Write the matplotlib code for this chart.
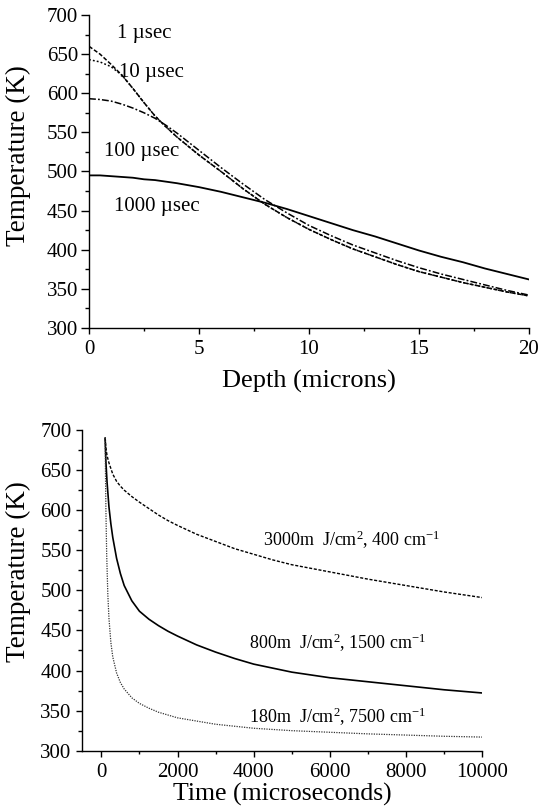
import matplotlib
matplotlib.use("Agg")
import matplotlib.pyplot as plt
from matplotlib.ticker import MultipleLocator

plt.rcParams["font.family"] = ["Liberation Serif", "DejaVu Serif"]
plt.rcParams["mathtext.fontset"] = "custom"
plt.rcParams["mathtext.rm"] = "Liberation Serif"
plt.rcParams["mathtext.it"] = "Liberation Serif:italic"

# ---- depth profiles at several times after the pulse ----
depth = [0, 0.5, 1, 1.5, 2, 2.5, 3, 3.5, 4, 5, 6, 7, 8, 9, 10,
         11, 12, 13, 14, 15, 16, 17, 18, 19, 20]
temp_1us = [660, 650, 637, 623, 606, 588, 571, 557, 544, 521, 500, 478, 458,
            441, 426, 413, 401, 391, 381, 372, 365, 358, 352, 346, 341]
temp_10us = [643, 640, 634, 623, 606, 588, 571, 557, 544, 521, 500, 478, 458,
             441, 426, 413, 401, 391, 381, 372, 365, 358, 352, 346, 341]
temp_100us = [593, 592, 590, 586, 581, 575, 568, 559, 549, 527, 505, 484, 464,
              447, 431, 418, 406, 396, 386, 377, 369, 362, 355, 348, 342]
temp_1000us = [495, 495, 494, 493, 492, 490, 489, 487, 485, 480, 474, 467, 460,
               452, 443, 434, 425, 417, 408, 399, 391, 384, 376, 369, 362]

profile_labels = ["1 \u00b5sec", "10 \u00b5sec", "100 \u00b5sec", "1000 \u00b5sec"]

# ---- surface temperature vs time for three fluence / absorption cases ----
time_3000 = [100, 120, 150, 200, 300, 400, 500, 600, 800, 1000, 1250, 1500,
             1750, 2000, 2500, 3000, 3500, 4000, 4500, 5000, 6000, 7000,
             8000, 9000, 10000]
temp_3000 = [690, 678, 668, 659, 645, 636, 630, 625, 617, 610, 602, 594,
             587, 581, 570, 561, 552, 545, 538, 532, 523, 514,
             506, 498, 491]

time_800 = [100, 120, 150, 200, 250, 300, 400, 500, 600, 800, 1000, 1250,
            1500, 1750, 2000, 2500, 3000, 3500, 4000, 4500, 5000, 6000,
            7000, 8000, 9000, 10000]
temp_800 = [690, 660, 635, 604, 583, 566, 540, 521, 506, 487, 474, 464,
            456, 449, 443, 432, 423, 415, 408, 403, 398, 391,
            386, 381, 376, 372]

time_180 = [100, 110, 120, 140, 170, 200, 250, 300, 400, 500, 600, 800,
            1000, 1250, 1500, 2000, 2500, 3000, 4000, 5000, 6000, 7000,
            8000, 9000, 10000]
temp_180 = [690, 640, 600, 545, 495, 465, 435, 417, 397, 385, 377, 366,
            359, 353, 348, 341, 337, 333, 328, 325, 323, 321,
            319.5, 318, 317]

case_labels = [r"3000m  J/cm$^{2}$, 400 cm$^{-1}$",
               r"800m  J/cm$^{2}$, 1500 cm$^{-1}$",
               r"180m  J/cm$^{2}$, 7500 cm$^{-1}$"]

fig = plt.figure(figsize=(5.4, 8.1), dpi=100)
ax1 = fig.add_axes([0.1648, 0.5951, 0.8148, 0.3864])
ax2 = fig.add_axes([0.1524, 0.0732, 0.7407, 0.3959])


def style_axes(ax, ymajor_len):
    for side in ("top", "right"):
        ax.spines[side].set_visible(False)
    for side in ("left", "bottom"):
        ax.spines[side].set_linewidth(1.0)
    ax.tick_params(which="major", direction="out", width=1.0, labelsize=15)
    ax.tick_params(which="minor", direction="out", width=1.0)
    ax.tick_params(axis="x", which="major", length=4.3, pad=4.5)
    ax.tick_params(axis="x", which="minor", length=2.4)
    ax.tick_params(axis="y", which="major", length=ymajor_len,
                   pad=7.7 - ymajor_len)
    ax.tick_params(axis="y", which="minor", length=2.8)


lw = 1.1
ax1.plot(depth, temp_1us, color="black", lw=lw, ls=(0, (2.7, 1.3)))
ax1.plot(depth, temp_10us, color="black", lw=lw, ls=(0, (1.2, 1.4)))
ax1.plot(depth, temp_100us, color="black", lw=lw, ls=(0, (4.5, 1.4, 1.2, 1.4)))
ax1.plot(depth, temp_1000us, color="black", lw=1.3, ls="-")
ax1.set_xlim(0, 20)
ax1.set_ylim(300, 700)
ax1.xaxis.set_major_locator(MultipleLocator(5))
ax1.xaxis.set_minor_locator(MultipleLocator(2.5))
ax1.yaxis.set_major_locator(MultipleLocator(50))
ax1.yaxis.set_minor_locator(MultipleLocator(25))
style_axes(ax1, 5.8)
ax1.set_xlabel("Depth (microns)", fontsize=19, labelpad=8)
ax1.set_ylabel("Temperature (K)", fontsize=19.5)
ax1.yaxis.set_label_coords(-0.132, 0.55)

label_pos_depth = [(2.5, 676), (2.85, 627), (2.4, 525), (3.1, 455)]
for (x, y), s in zip(label_pos_depth, profile_labels):
    ax1.text(x, y, s, fontsize=15, ha="center", va="center")

ax2.plot(time_3000, temp_3000, color="black", lw=1.0, ls=(0, (2.2, 1.2)))
ax2.plot(time_800, temp_800, color="black", lw=1.2, ls="-")
ax2.plot(time_180, temp_180, color="#333333", lw=0.9, ls=(0, (1, 1)))
ax2.set_xlim(-500, 10000)
ax2.set_ylim(300, 700)
ax2.xaxis.set_major_locator(MultipleLocator(2000))
ax2.xaxis.set_minor_locator(MultipleLocator(1000))
ax2.yaxis.set_major_locator(MultipleLocator(50))
ax2.yaxis.set_minor_locator(MultipleLocator(25))
style_axes(ax2, 4.6)
ax2.set_xlabel("Time (microseconds)", fontsize=18.5, labelpad=1)
ax2.set_ylabel("Temperature (K)", fontsize=19.5)
ax2.yaxis.set_label_coords(-0.128, 0.558)

label_pos_time = [(4245, 563), (3886, 434), (3886, 342)]
for (x, y), s in zip(label_pos_time, case_labels):
    ax2.text(x, y, s, fontsize=13, ha="left", va="center")

fig.savefig("out.png", dpi=100)
